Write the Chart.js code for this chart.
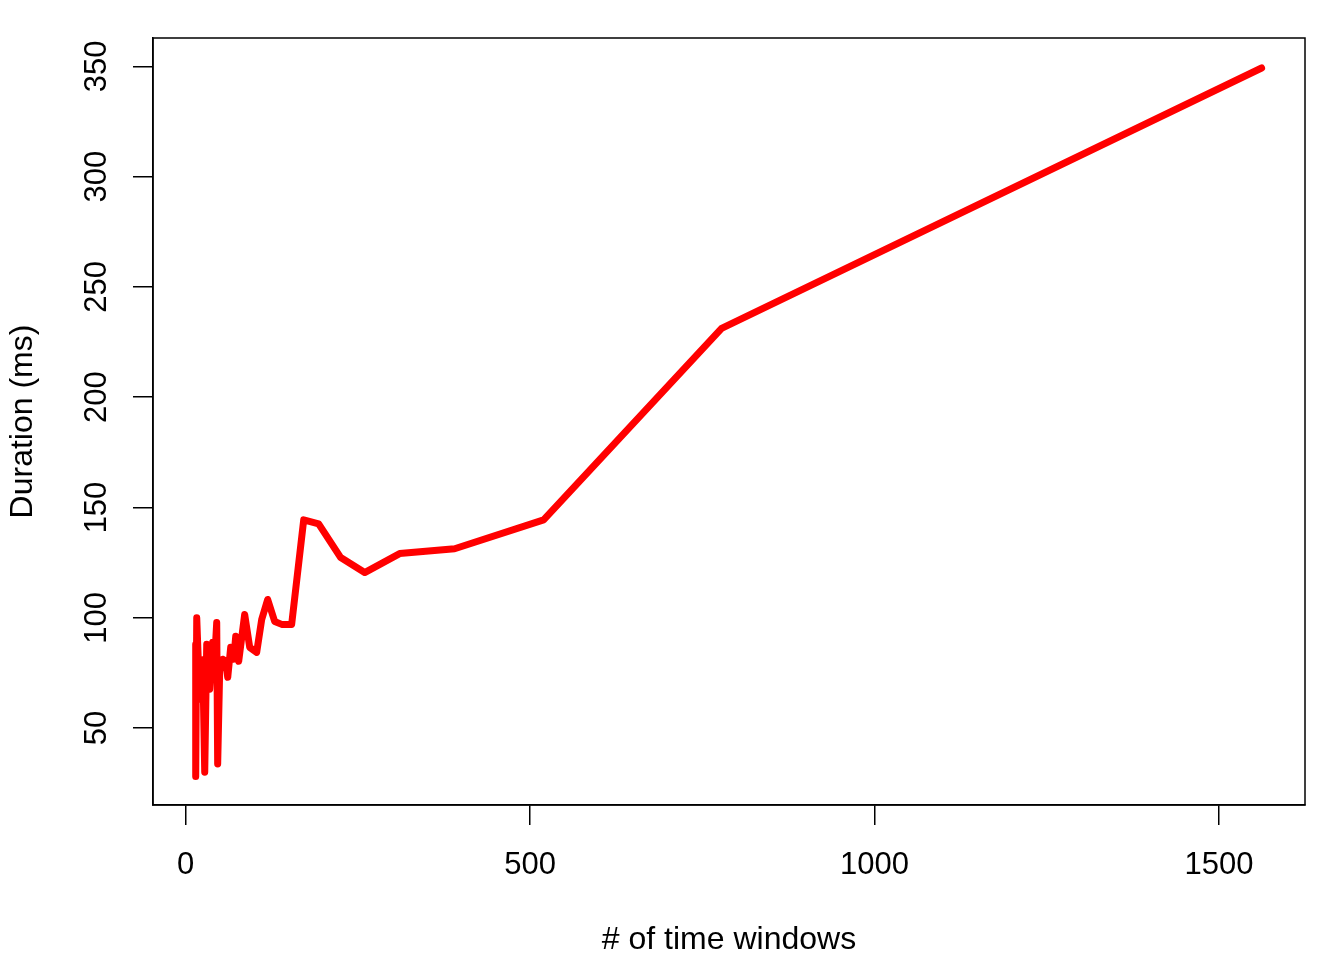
<!DOCTYPE html>
<html>
<head>
<meta charset="utf-8">
<script src="https://cdn.jsdelivr.net/npm/chart.js@4/dist/chart.umd.min.js"></script>
<style>
  html, body { margin: 0; padding: 0; background: #fff; }
  canvas { display: block; }
</style>
</head>
<body>
<canvas id="durationChart" width="1344" height="960"></canvas>
<script>
// valores
const timeWindows = [14.5, 14.5, 16, 20.3, 24.7, 27.6, 30.5, 34.8, 39.2, 42.1, 45, 46.4, 49.3, 53.7,
  58.1, 61, 65.3, 69.7, 72.6, 76.9, 85.6, 92.9, 103, 110.3, 119, 129.2, 139.3, 153.8,
  171.3, 193, 225, 259.8, 310.6, 390.4, 519.6, 778, 1562];
const durationMs = [88, 28, 100, 63, 81, 30, 88, 67.6, 88.9, 81.2, 97.9, 33.7, 75.8, 81.2,
  80.3, 73, 86.6, 81.2, 91.6, 80.3, 101.5, 86.6, 84.3, 99.2, 108.3, 98.3, 97, 97,
  144.4, 142.6, 127.3, 120.5, 129.1, 131.3, 144.4, 231.2, 349.3];
const xTicks = [0, 500, 1000, 1500];
const yTicks = [50, 100, 150, 200, 250, 300, 350];

const FONT = { family: '"Liberation Sans", Arial, Helvetica, sans-serif', size: 31 };
const TITLE_FONT = { family: '"Liberation Sans", Arial, Helvetica, sans-serif', size: 32 };

// moldura em volta da área do gráfico
const boxPlugin = {
  id: 'box',
  afterDraw(chart) {
    const { ctx, chartArea: a } = chart;
    ctx.save();
    ctx.strokeStyle = '#000';
    ctx.lineWidth = 1.5;
    ctx.strokeRect(a.left, a.top, a.right - a.left, a.bottom - a.top);
    ctx.restore();
  }
};

const points = timeWindows.map((x, i) => ({ x: x, y: durationMs[i] }));

new Chart(document.getElementById('durationChart'), {
  type: 'line',
  data: {
    datasets: [{
      data: points,
      borderColor: '#ff0000',
      borderWidth: 7,
      borderCapStyle: 'round',
      borderJoinStyle: 'round',
      pointRadius: 0,
      tension: 0,
      fill: false
    }]
  },
  options: {
    responsive: false,
    animation: false,
    devicePixelRatio: 1,
    layout: { padding: { top: 38, right: 39, left: 0, bottom: 0 } },
    plugins: { legend: { display: false }, tooltip: { enabled: false } },
    scales: {
      x: {
        type: 'linear',
        min: -47.5,
        max: 1625,
        afterBuildTicks: axis => { axis.ticks = xTicks.map(v => ({ value: v })); },
        afterFit: scale => { scale.height = 155; },
        grid: { drawOnChartArea: false, tickLength: 20, color: '#000', lineWidth: 1.5 },
        border: { display: true, color: '#000', width: 1.5 },
        ticks: { font: FONT, color: '#000', padding: 22, maxRotation: 0, autoSkip: false, callback: v => String(v) },
        title: { display: true, text: '# of time windows', font: TITLE_FONT, color: '#000', padding: { top: 0, bottom: 1 } }
      },
      y: {
        type: 'linear',
        min: 15.1,
        max: 362.9,
        afterBuildTicks: axis => { axis.ticks = yTicks.map(v => ({ value: v })); },
        afterFit: scale => { scale.width = 153; },
        grid: { drawOnChartArea: false, tickLength: 20, color: '#000', lineWidth: 1.5 },
        border: { display: true, color: '#000', width: 1.5 },
        ticks: { font: FONT, color: '#000', padding: 10, minRotation: 90, maxRotation: 90, crossAlign: 'center', autoSkip: false, callback: v => String(v) },
        title: { display: true, text: 'Duration (ms)', font: TITLE_FONT, color: '#000', padding: { top: 4, bottom: 0 } }
      }
    }
  },
  plugins: [boxPlugin]
});
</script>
</body>
</html>
